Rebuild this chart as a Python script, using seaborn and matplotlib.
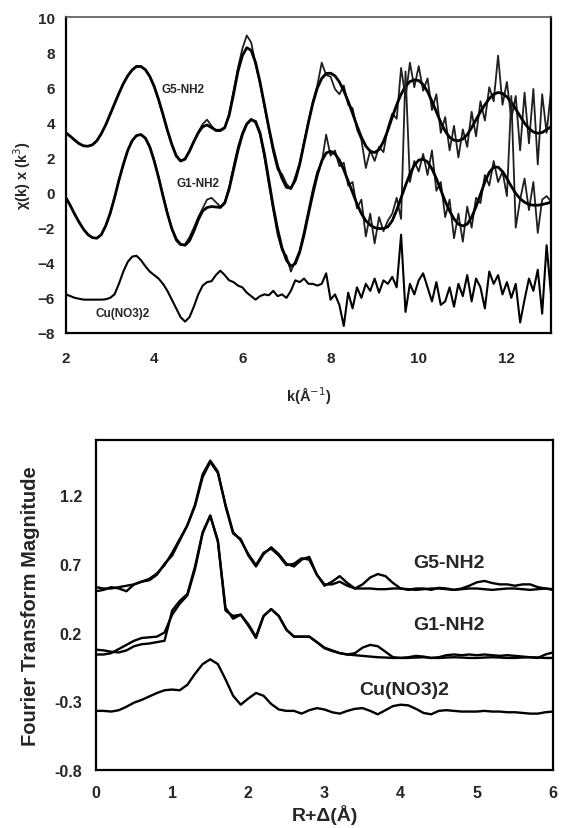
import numpy as np
import pandas as pd
import matplotlib
matplotlib.use("Agg")
import matplotlib.pyplot as plt
import seaborn as sns

# ---------------- data: top panel (chi(k) * k^3) ----------------
k = [2.0, 2.1, 2.2, 2.3, 2.4, 2.5, 2.6, 2.7, 2.8, 2.9,
     3.0, 3.1, 3.2, 3.3, 3.4, 3.5, 3.6, 3.7, 3.8, 3.9,
     4.0, 4.1, 4.2, 4.3, 4.4, 4.5, 4.6, 4.7, 4.8, 4.9,
     5.0, 5.1, 5.2, 5.3, 5.4, 5.5, 5.6, 5.7, 5.8, 5.9,
     6.0, 6.1, 6.2, 6.3, 6.4, 6.5, 6.6, 6.7, 6.8, 6.9,
     7.0, 7.1, 7.2, 7.3, 7.4, 7.5, 7.6, 7.7, 7.8, 7.9,
     8.0, 8.1, 8.2, 8.3, 8.4, 8.5, 8.6, 8.7, 8.8, 8.9,
     9.0, 9.1, 9.2, 9.3, 9.4, 9.5, 9.6, 9.7, 9.8, 9.9,
     10.0, 10.1, 10.2, 10.3, 10.4, 10.5, 10.6, 10.7, 10.8, 10.9,
     11.0, 11.1, 11.2, 11.3, 11.4, 11.5, 11.6, 11.7, 11.8, 11.9,
     12.0, 12.1, 12.2, 12.3, 12.4, 12.5, 12.6, 12.7, 12.8, 12.9,
     13.0]

g5_fit = [3.40, 3.20, 2.98, 2.78, 2.66, 2.64, 2.72, 2.95, 3.35, 3.85,
          4.45, 5.05, 5.65, 6.20, 6.65, 6.98, 7.18, 7.18, 7.00, 6.62,
          6.05, 5.30, 4.45, 3.55, 2.75, 2.10, 1.80, 1.90, 2.35, 2.90,
          3.40, 3.75, 3.85, 3.70, 3.55, 3.55, 3.70, 4.40, 5.60, 6.90,
          7.80, 8.25, 8.10, 7.40, 6.30, 5.00, 3.70, 2.50, 1.50, 0.80,
          0.30, 0.25, 0.70, 1.60, 2.80, 4.00, 5.10, 5.95, 6.50, 6.78,
          6.80, 6.65, 6.30, 5.80, 5.20, 4.50, 3.80, 3.15, 2.65, 2.35,
          2.28, 2.45, 2.90, 3.55, 4.30, 5.00, 5.60, 6.05, 6.32, 6.42,
          6.38, 6.15, 5.75, 5.20, 4.60, 4.00, 3.50, 3.15, 2.98, 2.95,
          3.05, 3.30, 3.70, 4.15, 4.60, 5.00, 5.35, 5.60, 5.70, 5.65,
          5.45, 5.15, 4.75, 4.35, 3.95, 3.65, 3.45, 3.38, 3.42, 3.58,
          3.75]

g5_exp = [3.40, 3.20, 2.98, 2.78, 2.66, 2.64, 2.72, 2.95, 3.35, 3.85,
          4.45, 5.05, 5.65, 6.20, 6.65, 7.00, 7.22, 7.20, 7.00, 6.60,
          6.00, 5.25, 4.40, 3.50, 2.70, 2.05, 1.78, 1.95, 2.40, 2.95,
          3.45, 3.90, 4.15, 3.80, 3.50, 3.50, 3.65, 4.50, 5.80, 7.10,
          8.20, 8.95, 8.55, 7.30, 6.20, 4.90, 3.60, 2.30, 1.30, 1.05,
          0.50, 0.20, 0.90, 1.70, 2.90, 4.10, 5.20, 6.10, 7.40, 6.70,
          6.60, 5.90, 5.60, 6.10, 5.00, 4.80, 3.60, 3.00, 1.40, 2.40,
          1.80, 2.60, 2.30, 3.70, 4.50, 4.20, 7.10, 5.40, 7.40, 6.00,
          7.20, 5.80, 6.50, 4.70, 5.60, 3.40, 4.30, 2.40, 3.80, 2.00,
          3.60, 2.60, 4.60, 3.20, 5.20, 4.10, 6.00, 5.20, 7.80, 5.00,
          6.30, 4.20, 5.50, 2.40, 5.70, 2.80, 5.90, 1.60, 5.60, 3.40,
          5.80]

g1_fit = [-0.30, -0.75, -1.25, -1.70, -2.10, -2.40, -2.57, -2.60, -2.40, -1.90,
          -1.20, -0.30, 0.70, 1.60, 2.40, 2.95, 3.25, 3.30, 3.10, 2.60,
          1.80, 0.85, -0.20, -1.20, -2.05, -2.65, -2.95, -3.00, -2.75, -2.20,
          -1.55, -1.05, -0.85, -0.80, -0.82, -0.85, -0.60, 0.20, 1.30, 2.40,
          3.30, 3.90, 4.15, 4.05, 3.40, 2.20, 0.70, -0.80, -2.10, -3.15,
          -3.85, -4.20, -4.05, -3.40, -2.40, -1.20, -0.05, 1.00, 1.80, 2.25,
          2.35, 2.20, 1.85, 1.30, 0.65, 0.00, -0.65, -1.20, -1.60, -1.85,
          -2.00, -2.05, -2.05, -1.95, -1.60, -1.00, -0.30, 0.40, 1.05, 1.55,
          1.85, 1.90, 1.75, 1.35, 0.80, 0.15, -0.50, -1.05, -1.50, -1.80,
          -1.90, -1.80, -1.40, -0.80, -0.10, 0.60, 1.15, 1.45, 1.45, 1.20,
          0.80, 0.35, -0.05, -0.35, -0.55, -0.68, -0.72, -0.72, -0.68, -0.62,
          -0.55]

g1_exp = [-0.30, -0.75, -1.25, -1.70, -2.10, -2.40, -2.57, -2.60, -2.40, -1.90,
          -1.20, -0.30, 0.70, 1.60, 2.40, 2.95, 3.25, 3.32, 3.12, 2.62,
          1.85, 0.90, -0.15, -1.15, -2.10, -2.75, -3.00, -2.95, -2.55, -2.00,
          -1.40, -0.90, -0.40, -0.30, -0.55, -0.80, -0.55, 0.30, 1.50, 2.60,
          3.40, 3.95, 4.20, 3.95, 3.30, 2.00, 0.50, -1.00, -2.40, -3.30,
          -3.60, -4.50, -3.90, -3.30, -2.20, -1.00, 0.20, 1.20, 1.70, 3.30,
          2.10, 2.40, 1.50, 1.70, 0.40, 0.60, -0.90, -0.40, -2.50, -1.20,
          -2.90, -1.40, -2.20, -1.60, -1.20, -0.30, -1.50, 6.90, 0.60, 1.80,
          1.20, 2.20, 1.00, 2.40, 0.10, 0.60, -1.40, -0.40, -2.60, -1.20,
          -2.80, -0.80, -2.00, -0.30, -0.60, 1.00, 0.40, 1.80, 0.60, 1.20,
          -0.20, 5.50, -2.00, -0.40, 0.80, -1.00, 0.60, -2.30, -0.40, -0.20,
          -0.50]

cu_exp = [-5.80, -5.90, -6.00, -6.05, -6.10, -6.10, -6.10, -6.10, -6.10, -6.08,
          -6.00, -5.80, -5.20, -4.50, -3.95, -3.65, -3.60, -3.85, -4.20, -4.50,
          -4.70, -4.90, -5.20, -5.60, -6.10, -6.60, -7.10, -7.35, -7.10, -6.50,
          -5.80, -5.30, -5.10, -5.05, -4.70, -4.45, -4.70, -5.00, -5.10, -5.30,
          -5.40, -5.70, -5.90, -6.10, -5.90, -5.80, -5.85, -5.60, -5.90, -5.80,
          -6.00, -5.60, -5.00, -5.10, -4.90, -5.20, -5.20, -5.30, -5.20, -4.60,
          -6.10, -5.80, -6.40, -7.60, -5.70, -6.60, -5.40, -6.00, -5.20, -5.60,
          -4.90, -5.70, -5.00, -5.20, -4.80, -5.40, -2.40, -6.80, -5.20, -5.80,
          -5.00, -4.60, -5.40, -6.20, -5.10, -6.40, -6.20, -5.40, -6.50, -5.20,
          -5.90, -4.70, -6.20, -4.90, -5.40, -6.60, -4.50, -5.20, -4.70, -5.80,
          -5.10, -6.00, -5.20, -7.40, -6.10, -4.90, -5.60, -4.40, -6.90, -3.00,
          -5.80]

top_labels = ["G5-NH2", "G1-NH2", "Cu(NO3)2"]
top_label_x = [4.66, 5.0, 3.28]
top_label_y = [5.9, 0.55, -6.85]
top_xticks = [2, 4, 6, 8, 10, 12]
top_yticks = [-8, -6, -4, -2, 0, 2, 4, 6, 8, 10]

# ---------------- data: bottom panel (Fourier transform) ----------------
r = [0.0, 0.1, 0.2, 0.3, 0.4, 0.5, 0.6, 0.7, 0.8, 0.9,
     1.0, 1.1, 1.2, 1.3, 1.4, 1.5, 1.6, 1.7, 1.8, 1.9,
     2.0, 2.1, 2.2, 2.3, 2.4, 2.5, 2.6, 2.7, 2.8, 2.9,
     3.0, 3.1, 3.2, 3.3, 3.4, 3.5, 3.6, 3.7, 3.8, 3.9,
     4.0, 4.1, 4.2, 4.3, 4.4, 4.5, 4.6, 4.7, 4.8, 4.9,
     5.0, 5.1, 5.2, 5.3, 5.4, 5.5, 5.6, 5.7, 5.8, 5.9,
     6.0]

ft_g5_fit = [0.53, 0.52, 0.52, 0.53, 0.54, 0.55, 0.57, 0.59, 0.63, 0.69,
             0.78, 0.88, 0.98, 1.12, 1.33, 1.44, 1.36, 1.13, 0.93, 0.87,
             0.77, 0.69, 0.78, 0.81, 0.76, 0.69, 0.70, 0.74, 0.73, 0.62,
             0.55, 0.55, 0.57, 0.54, 0.52, 0.52, 0.52, 0.515, 0.515, 0.52,
             0.52, 0.515, 0.51, 0.515, 0.52, 0.52, 0.515, 0.51, 0.515, 0.52,
             0.52, 0.515, 0.51, 0.515, 0.52, 0.52, 0.515, 0.51, 0.515, 0.52,
             0.515]

ft_g5_exp = [0.50, 0.51, 0.53, 0.52, 0.50, 0.55, 0.57, 0.58, 0.62, 0.70,
             0.76, 0.87, 0.98, 1.13, 1.35, 1.45, 1.37, 1.12, 0.92, 0.88,
             0.76, 0.68, 0.77, 0.82, 0.77, 0.70, 0.68, 0.73, 0.75, 0.62,
             0.54, 0.57, 0.61, 0.56, 0.52, 0.55, 0.60, 0.625, 0.61, 0.56,
             0.52, 0.51, 0.52, 0.52, 0.51, 0.525, 0.52, 0.51, 0.52, 0.54,
             0.565, 0.575, 0.56, 0.55, 0.55, 0.54, 0.55, 0.55, 0.53, 0.52,
             0.51]

ft_g1_fit = [0.04, 0.04, 0.05, 0.08, 0.11, 0.14, 0.16, 0.165, 0.17, 0.20,
             0.33, 0.41, 0.47, 0.66, 0.92, 1.05, 0.87, 0.38, 0.30, 0.33,
             0.26, 0.17, 0.32, 0.37, 0.32, 0.22, 0.17, 0.17, 0.17, 0.13,
             0.085, 0.065, 0.05, 0.04, 0.035, 0.03, 0.025, 0.02, 0.018, 0.015,
             0.015, 0.015, 0.018, 0.02, 0.015, 0.015, 0.018, 0.02, 0.018, 0.015,
             0.015, 0.018, 0.02, 0.018, 0.015, 0.015, 0.018, 0.02, 0.018, 0.015,
             0.015]

ft_g1_exp = [0.075, 0.07, 0.06, 0.055, 0.07, 0.10, 0.115, 0.12, 0.13, 0.14,
             0.36, 0.43, 0.48, 0.68, 0.93, 1.05, 0.86, 0.36, 0.32, 0.33,
             0.25, 0.16, 0.32, 0.37, 0.32, 0.22, 0.17, 0.17, 0.17, 0.13,
             0.09, 0.07, 0.05, 0.04, 0.05, 0.09, 0.11, 0.10, 0.06, 0.02,
             0.015, 0.02, 0.03, 0.025, 0.015, 0.02, 0.035, 0.04, 0.035, 0.04,
             0.035, 0.04, 0.035, 0.03, 0.035, 0.03, 0.025, 0.02, 0.015, 0.04,
             0.055]

ft_cu = [-0.37, -0.37, -0.375, -0.365, -0.34, -0.31, -0.29, -0.265, -0.24, -0.22,
         -0.215, -0.22, -0.18, -0.10, -0.03, 0.005, -0.03, -0.14, -0.26, -0.325,
         -0.28, -0.24, -0.26, -0.32, -0.36, -0.37, -0.37, -0.39, -0.365, -0.35,
         -0.36, -0.38, -0.39, -0.37, -0.355, -0.35, -0.37, -0.395, -0.365, -0.335,
         -0.325, -0.33, -0.355, -0.385, -0.395, -0.37, -0.365, -0.37, -0.375, -0.375,
         -0.375, -0.37, -0.375, -0.375, -0.38, -0.38, -0.385, -0.39, -0.39, -0.38,
         -0.375]

bot_labels = ["G5-NH2", "G1-NH2", "Cu(NO3)2"]
bot_label_x = [4.64, 4.64, 4.05]
bot_label_y = [0.71, 0.26, -0.215]
bot_xticks = [0, 1, 2, 3, 4, 5, 6]
bot_yticks = [-0.8, -0.3, 0.2, 0.7, 1.2]

# ---------------- figure ----------------
sns.set_style("white")
plt.rcParams["font.family"] = ["Liberation Sans", "DejaVu Sans"]
narrow = ["Liberation Sans Narrow", "Liberation Sans", "DejaVu Sans"]

W, H = 561, 829
fig = plt.figure(figsize=(W / 100, H / 100), dpi=100)
ax1 = fig.add_axes([66 / W, 1 - 334 / H, 485 / W, 316 / H])
ax2 = fig.add_axes([96 / W, 1 - 771 / H, 457 / W, 330 / H])

# top panel
for y, lw, col in [(g5_exp, 1.3, "#1e1e1e"), (g5_fit, 2.0, "black"),
                   (g1_exp, 1.3, "#1e1e1e"), (g1_fit, 2.0, "black"),
                   (cu_exp, 1.5, "black")]:
    sns.lineplot(x=k, y=y, ax=ax1, color=col, lw=lw, estimator=None, sort=False)

ax1.set_xlim(2, 13)
ax1.set_ylim(-8, 10)
ax1.set_xticks(top_xticks)
ax1.set_yticks(top_yticks)
for lab in ax1.get_xticklabels() + ax1.get_yticklabels():
    lab.set_family(narrow)
    lab.set_fontweight("bold")
    lab.set_fontsize(11)
ax1.tick_params(axis="both", length=0)
ax1.tick_params(axis="x", pad=13)
ax1.tick_params(axis="y", pad=8)
ax1.set_xlabel("k(Å$^{-1}$)", fontsize=10.5, fontweight="bold", family=narrow, labelpad=14)
ax1.set_ylabel("χ(k) x (k$^{3}$)", fontsize=10.5, fontweight="bold", family=narrow, labelpad=3)
for t, x, y in zip(top_labels, top_label_x, top_label_y):
    ax1.text(x, y, t, fontsize=8.5, family=narrow, fontweight="bold", ha="center", va="center")
for s in ["left", "bottom", "right"]:
    ax1.spines[s].set_color("black")
    ax1.spines[s].set_linewidth(1.6)
ax1.spines["top"].set_color("#555555")
ax1.spines["top"].set_linewidth(1.2)

# bottom panel
for y, lw in [(ft_g5_exp, 1.7), (ft_g5_fit, 1.7), (ft_g1_exp, 1.7),
              (ft_g1_fit, 1.7), (ft_cu, 1.7)]:
    sns.lineplot(x=r, y=y, ax=ax2, color="black", lw=lw, estimator=None, sort=False)

ax2.set_xlim(0, 6)
ax2.set_ylim(-0.8, 1.6)
ax2.set_xticks(bot_xticks)
ax2.set_yticks(bot_yticks)
ax2.set_yticklabels([f"{v:.1f}" for v in bot_yticks])
for lab in ax2.get_xticklabels() + ax2.get_yticklabels():
    lab.set_fontweight("bold")
    lab.set_fontsize(11.5)
ax2.tick_params(axis="both", length=0)
ax2.tick_params(axis="x", pad=11)
ax2.tick_params(axis="y", pad=10)
ax2.set_xlabel("R+Δ(Å)", fontsize=14, fontweight="bold", labelpad=3)
ax2.set_ylabel("Fourier Transform Magnitude", fontsize=14.5, fontweight="bold", labelpad=10)
for t, x, y in zip(bot_labels, bot_label_x, bot_label_y):
    ax2.text(x, y, t, fontsize=14, fontweight="bold", ha="center", va="center")
for s in ax2.spines.values():
    s.set_color("black")
    s.set_linewidth(1.6)

fig.savefig("out.png", dpi=100)
